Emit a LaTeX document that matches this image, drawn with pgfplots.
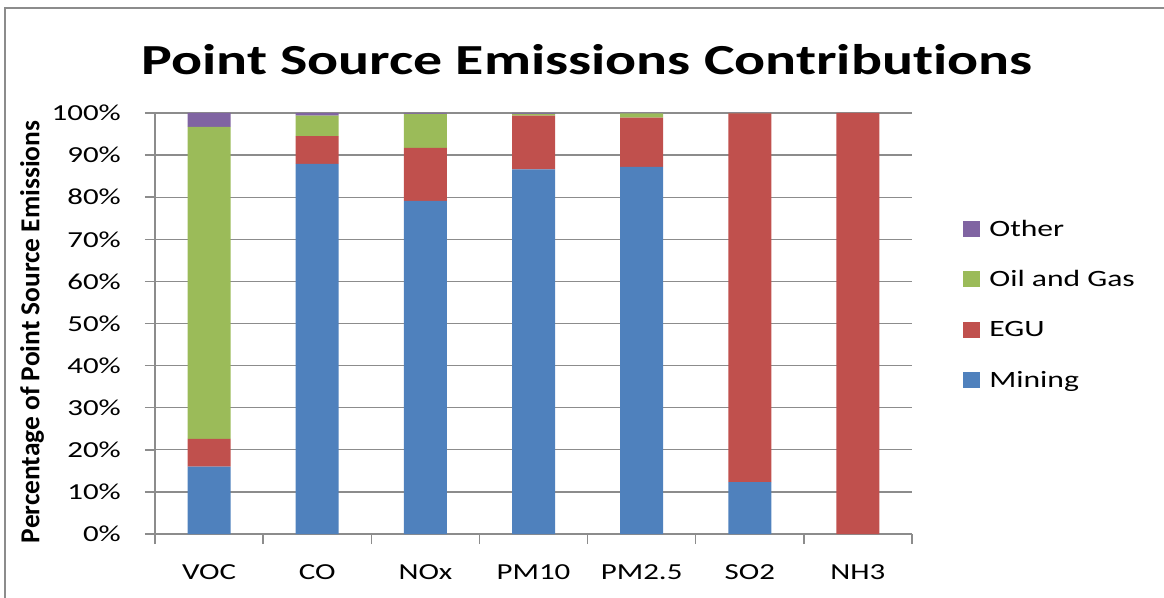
\documentclass[border=0pt]{standalone}
\usepackage{fontspec}
\setmainfont{Carlito}[FakeStretch=1.35, Ligatures=NoCommon]
\newfontfamily\labelfont{Carlito}[Ligatures=NoCommon]
\usepackage{pgfplots}
\usepackage{pgfplotstable}
\pgfplotsset{compat=1.18}
\definecolor{cMining}{HTML}{4F81BD}
\definecolor{cEGU}{HTML}{C0504D}
\definecolor{cOil}{HTML}{9BBB59}
\definecolor{cOther}{HTML}{8064A2}
\definecolor{gridgray}{HTML}{8C8C8C}
\pgfplotstableread{
x Mining EGU Oil Other
0 16.0 6.6 74.1 3.3
1 87.9 6.6 4.9 0.6
2 79.1 12.6 8.1 0.2
3 86.6 12.8 0.4 0.2
4 87.2 11.7 1.0 0.1
5 12.3 87.6 0.05 0.05
6 0 100 0 0
}\datatable
\begin{document}
\begin{tikzpicture}
\useasboundingbox (-155bp,-64bp) rectangle (1009bp,534bp);
\draw[gridgray, line width=2bp] (-150bp,-64bp) -- (-150bp,526bp) -- (1009bp,526bp);
\begin{axis}[
  at={(0,0)}, anchor=south west,
  width=757bp, height=421bp, scale only axis,
  xmin=-0.5, xmax=6.5, ymin=0, ymax=100,
  ybar stacked, bar width=43bp,
  axis x line*=bottom, axis y line*=left,
  axis line style={draw=gridgray, line width=1.5bp},
  ymajorgrids, major grid style={draw=gridgray, line width=1.3bp},
  xtick={0,...,6}, xticklabels={VOC,CO,NOx,PM10,PM2.5,SO2,NH3},
  minor xtick={-0.5,0.5,...,6.5},
  ytick={0,10,...,100},
  yticklabels={0\%,10\%,20\%,30\%,40\%,50\%,60\%,70\%,80\%,90\%,100\%},
  tick align=outside,
  major tick length=10bp, minor tick length=10bp,
  tick style={draw=gridgray, line width=1.5bp},
  major x tick style={draw=none},
  ticklabel style={font=\fontsize{23}{27}\selectfont},
  yticklabel style={anchor=east, inner sep=0pt, xshift=-24bp},
  xticklabel style={anchor=base, inner sep=0pt, yshift=-35bp},
  ylabel={Percentage of Point Source Emissions},
  ylabel style={font=\labelfont\bfseries\fontsize{27.5}{32}\selectfont, at={(axis description cs:-0.1625,0.48)}, anchor=center},
  reverse legend,
  legend cell align=left,
  legend style={draw=none, fill=none, at={(axis description cs:1.0676,0.546)}, anchor=west,
    font=\fontsize{23.5}{28}\selectfont, row sep=29bp, column sep=7bp, inner sep=0pt},
]
\addplot+[fill=cMining, draw=none, legend image code/.code={\fill[cMining] (0bp,-8bp) rectangle (17bp,8bp);}] table[x=x, y=Mining] {\datatable};
\addlegendentry{Mining}
\addplot+[fill=cEGU, draw=none, legend image code/.code={\fill[cEGU] (0bp,-8bp) rectangle (17bp,8bp);}] table[x=x, y=EGU] {\datatable};
\addlegendentry{EGU}
\addplot+[fill=cOil, draw=none, legend image code/.code={\fill[cOil] (0bp,-8bp) rectangle (17bp,8bp);}] table[x=x, y=Oil] {\datatable};
\addlegendentry{Oil and Gas}
\addplot+[fill=cOther, draw=none, legend image code/.code={\fill[cOther] (0bp,-8bp) rectangle (17bp,8bp);}] table[x=x, y=Other] {\datatable};
\addlegendentry{Other}
\end{axis}
\node[font=\bfseries\fontsize{43}{50}\selectfont, anchor=base] at (432bp,459bp) {Point Source Emissions Contributions};
\end{tikzpicture}
\end{document}
